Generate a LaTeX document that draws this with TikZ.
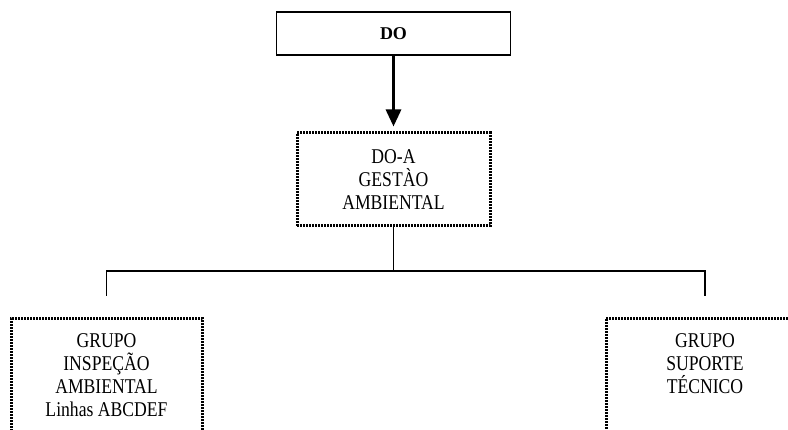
\documentclass[tikz,border=0pt]{standalone}
\usepackage{fontspec}
\setmainfont{Liberation Serif}
\newfontfamily\condserif[FakeStretch=0.84]{Liberation Serif}
\usetikzlibrary{arrows.meta,calc}
\begin{document}
\begin{tikzpicture}[x=1pt,y=-1pt,
  txt/.style={font=\condserif\fontsize{21}{23}\selectfont, align=center, inner sep=0pt},
  solidbox/.style={draw, line width=1.4pt, inner sep=0pt},
  dotbox/.style={draw, line width=3pt, dash pattern=on 2pt off 1pt, inner sep=0pt},
  conn/.style={line width=1.6pt},
  arr/.style={line width=3pt, -{Triangle[length=17pt,width=15pt]}, shorten >=5pt}]
\clip (0,0) rectangle (788,430);
\fill[white] (0,0) rectangle (788,430);
\node[solidbox, minimum width=234pt, minimum height=43pt, inner sep=0pt, font=\fontsize{18}{20}\selectfont\bfseries] (do) at (393.5,33.5) {DO};
\node[dotbox, minimum width=193pt, minimum height=93pt, txt] (doa) at (393.5,179.5) {DO-A\\GESTÀO\\AMBIENTAL};
\node[dotbox, minimum width=191pt, minimum height=200pt, anchor=north] (gi) at (106.5,317) {};
\node[dotbox, minimum width=198pt, minimum height=200pt, anchor=north] (gs) at (705,317) {};
\node[txt, anchor=north] (gitxt) at (106.5,333) {GRUPO\\INSPEÇÃO\\AMBIENTAL\\Linhas ABCDEF};
\node[txt, anchor=north] (gstxt) at (705,333) {GRUPO\\SUPORTE\\TÉCNICO};
\draw[arr] (do.south) -- (doa.north);
\coordinate (bus) at (doa.south |- 0,271);
\draw[conn] (doa.south) -- (bus);
\draw[conn] ($(gi.north)+(0,-21)$) |- (bus) -| ($(gs.north)+(0,-21)$);
\end{tikzpicture}
\end{document}
